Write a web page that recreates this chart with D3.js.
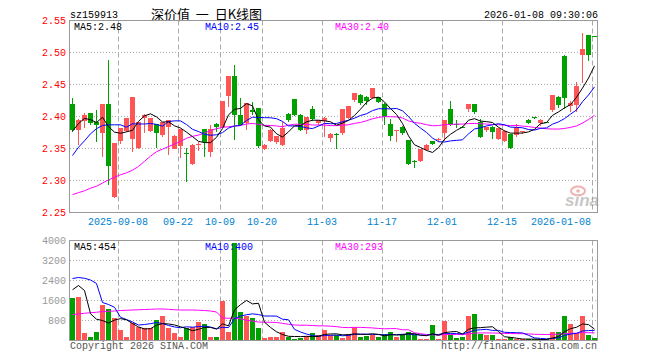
<!DOCTYPE html>
<html>
<head>
<meta charset="utf-8">
<script src="https://cdn.jsdelivr.net/npm/d3@7"></script>
<style>
  body { margin: 0; background: #fff; }
  text { font-family: "Liberation Mono", "DejaVu Sans Mono", monospace; font-size: 10px; }
</style>
</head>
<body>
<svg id="chart" width="660" height="360"></svg>
<script>
// daily candles, oldest first
const opens = [2.419,2.380,2.392,2.406,2.392,2.374,2.419,2.275,2.361,2.377,2.365,2.351,2.397,2.377,2.388,2.370,2.383,2.350,2.355,2.343,
  2.327,2.356,2.381,2.345,2.388,2.385,2.432,2.464,2.403,2.390,2.410,2.414,2.350,2.362,2.359,2.356,2.404,2.428,2.403,2.379,
  2.411,2.389,2.393,2.367,2.373,2.373,2.398,2.425,2.434,2.431,2.429,2.431,2.420,2.388,2.378,2.384,2.364,2.330,2.331,2.348,
  2.362,2.363,2.374,2.411,2.389,2.384,2.411,2.419,2.392,2.378,2.384,2.365,2.363,2.373,2.370,2.375,2.395,2.399,2.390,2.392,
  2.410,2.431,2.494,2.417,2.419,2.496,2.527,2.525];
const highs = [2.429,2.396,2.405,2.406,2.410,2.419,2.489,2.359,2.382,2.398,2.431,2.392,2.404,2.398,2.389,2.392,2.395,2.371,2.381,2.351,
  2.357,2.360,2.381,2.386,2.390,2.425,2.464,2.481,2.429,2.421,2.423,2.414,2.357,2.380,2.370,2.391,2.405,2.428,2.404,2.400,
  2.417,2.395,2.399,2.374,2.374,2.411,2.417,2.436,2.435,2.432,2.445,2.431,2.421,2.396,2.379,2.385,2.364,2.332,2.349,2.357,
  2.362,2.366,2.394,2.425,2.394,2.385,2.419,2.419,2.396,2.384,2.385,2.382,2.379,2.373,2.388,2.377,2.396,2.399,2.396,2.392,
  2.434,2.432,2.496,2.425,2.454,2.531,2.527,2.525];
const lows = [2.377,2.357,2.384,2.389,2.361,2.338,2.295,2.274,2.358,2.377,2.346,2.350,2.376,2.377,2.352,2.370,2.341,2.350,2.336,2.299,
  2.325,2.347,2.339,2.339,2.378,2.385,2.416,2.365,2.387,2.381,2.404,2.353,2.349,2.361,2.359,2.356,2.393,2.403,2.379,2.374,
  2.394,2.388,2.370,2.362,2.350,2.372,2.397,2.424,2.420,2.420,2.429,2.422,2.389,2.364,2.362,2.373,2.325,2.321,2.331,2.348,
  2.357,2.362,2.363,2.387,2.383,2.383,2.409,2.405,2.368,2.377,2.367,2.365,2.362,2.350,2.370,2.374,2.390,2.398,2.386,2.391,
  2.409,2.415,2.414,2.409,2.409,2.454,2.488,2.525];
const closes = [2.378,2.395,2.402,2.391,2.387,2.419,2.322,2.359,2.382,2.398,2.431,2.392,2.402,2.398,2.374,2.391,2.394,2.370,2.381,2.342,
  2.356,2.357,2.360,2.381,2.383,2.425,2.464,2.403,2.388,2.421,2.407,2.354,2.356,2.379,2.369,2.382,2.394,2.403,2.380,2.399,
  2.395,2.394,2.398,2.373,2.372,2.411,2.416,2.436,2.422,2.425,2.445,2.423,2.399,2.370,2.379,2.374,2.327,2.329,2.349,2.356,
  2.358,2.365,2.394,2.388,2.387,2.383,2.419,2.406,2.369,2.383,2.376,2.382,2.378,2.351,2.383,2.377,2.391,2.398,2.395,2.391,
  2.434,2.418,2.429,2.421,2.448,2.506,2.496,2.525];
const volumes = [1690,1760,290,160,360,1430,1250,890,440,130,690,560,490,490,840,1000,490,290,130,490,
  560,760,680,130,160,1600,360,3890,1160,1000,910,490,90,130,130,360,130,50,110,190,
  290,210,410,210,210,90,250,560,130,190,210,130,270,360,130,250,360,270,40,40,
  640,40,800,210,110,130,1000,1080,250,210,210,40,40,130,40,40,40,40,40,40,
  340,330,1000,660,320,1000,200,110];

// moving-average values before the window has enough days
const priceMa5Head = [2.377,2.389,2.397,2.395];
const priceMa10Head = [2.339,2.352,2.362,2.373,2.381,2.386,2.387,2.387,2.387];
const priceMa30Head = [2.278,2.281,2.284,2.288,2.291,2.296,2.301,2.305,2.309,2.312,2.316,2.322,2.330,2.338,2.345,
  2.349,2.353,2.357,2.361,2.366,2.369,2.371,2.374,2.378,2.381,2.383,2.384,2.385,2.386];
const volMa5Head = [2030,2200,2000,1070];
const volMa10Head = [2480,2520,2490,2420,2280,1520,1440,1330,930];
const volMa30Head = [1040,1060,1090,1110,1130,1160,1170,1180,1200,1210,1220,1230,1240,1250,1260,
  1260,1250,1230,1220,1220,1220,1210,1200,1180,1140,900,890,900,870];

const tickIdx = [8,18,25,32,42,52,62,72,87];
const tickLabels = ['2025-09-08','09-22','10-09','10-20','11-03','11-17','12-01','12-15','2026-01-08'];
const priceTicks = [2.25,2.30,2.35,2.40,2.45,2.50,2.55];
const volTicks = [800,1600,2400,3200,4000];

const RED = '#ff5555', GREEN = '#00a000', GRIDC = '#aaaaaa', FRAME = '#999999';
const LEFT = 70, RIGHT = 598;

function movingAvg(arr, n, head) {
    return arr.map((v, i) => {
        if (i < n - 1) return head[i];
        return d3.mean(arr.slice(i - n + 1, i + 1));
    });
}

let svg = d3.select('#chart');
let x = d3.scaleBand().domain(d3.range(closes.length)).range([LEFT, RIGHT]);
let yP = d3.scaleLinear().domain([2.25, 2.55]).range([212.5, 20.5]);
let yV = d3.scaleLinear().domain([0, 4000]).range([340.5, 240.5]);

// header
svg.append('text').text('sz159913').attr('x', 70).attr('y', 18);
svg.append('text').text('深价值\u00a0\u00a0一\u00a0\u00a0日K线图')
    .attr('x', 151).attr('y', 19)
    .style('font-family', '"Noto Sans CJK SC", sans-serif')
    .style('font-size', '13px');
svg.append('text').text('2026-01-08 09:30:06')
    .attr('x', 598).attr('y', 18).attr('text-anchor', 'end');

function drawPanel(y, top, bottom, gridVals) {
    let g = svg.append('g');
    g.selectAll('.hgrid').data(gridVals).enter().append('line')
        .attr('x1', LEFT).attr('x2', RIGHT)
        .attr('y1', d => y(d)).attr('y2', d => y(d))
        .attr('stroke', GRIDC).attr('stroke-dasharray', '1,2');
    g.selectAll('.vgrid').data(tickIdx).enter().append('line')
        .attr('x1', d => x(d) + 0.5).attr('x2', d => x(d) + 0.5)
        .attr('y1', top).attr('y2', bottom)
        .attr('stroke', GRIDC).attr('stroke-dasharray', '5,3');
    return g;
}

function drawFrame(top, bottom) {
    svg.append('rect')
        .attr('x', LEFT - 0.5).attr('y', top)
        .attr('width', RIGHT - LEFT).attr('height', bottom - top)
        .attr('fill', 'none').attr('stroke', FRAME);
}

function drawLine(vals, y, color) {
    svg.append('path')
        .datum(vals)
        .attr('fill', 'none')
        .attr('stroke', color)
        .attr('stroke-width', 1)
        .attr('d', d3.line().x((d, i) => x(i) + 2.5).y(d => y(d)));
}

// price panel
drawPanel(yP, 20.5, 212.5, [2.30, 2.35, 2.40, 2.45, 2.50]);

svg.selectAll('.plab').data(priceTicks).enter().append('text')
    .text(d => d.toFixed(2))
    .attr('x', 66).attr('y', d => yP(d) + 3.5)
    .attr('text-anchor', 'end')
    .attr('fill', '#ff0000');

// watermark
let logo = svg.append('g').attr('opacity', 0.55);
logo.append('ellipse').attr('cx', 578).attr('cy', 191).attr('rx', 7).attr('ry', 4.5)
    .attr('fill', 'none').attr('stroke', '#e87070').attr('stroke-width', 2);
logo.append('circle').attr('cx', 578).attr('cy', 191).attr('r', 1.8).attr('fill', '#e87070');
logo.append('text').text('sina')
    .attr('x', 565).attr('y', 206)
    .style('font-family', '"Liberation Sans", sans-serif')
    .style('font-size', '17px').style('font-style', 'italic').style('font-weight', 'bold')
    .attr('fill', '#9a9a9a');

let candles = svg.append('g').attr('shape-rendering', 'crispEdges');
let idx = d3.range(closes.length);
const colorOf = i => closes[i] > opens[i] ? RED : GREEN;

candles.selectAll('.wick').data(idx).enter().append('line')
    .attr('x1', i => x(i) + 2.5).attr('x2', i => x(i) + 2.5)
    .attr('y1', i => Math.round(yP(highs[i])))
    .attr('y2', i => Math.round(yP(lows[i])) + 1)
    .attr('stroke', colorOf);

candles.selectAll('.body').data(idx).enter().append('rect')
    .attr('x', i => x(i))
    .attr('width', 5)
    .attr('y', i => Math.round(yP(Math.max(opens[i], closes[i]))))
    .attr('height', i => Math.max(1, Math.round(Math.abs(yP(opens[i]) - yP(closes[i])))))
    .attr('fill', colorOf);

drawLine(movingAvg(closes, 30, priceMa30Head), yP, '#ff00ff');
drawLine(movingAvg(closes, 10, priceMa10Head), yP, '#0000ff');
drawLine(movingAvg(closes, 5, priceMa5Head), yP, '#000000');

drawFrame(20.5, 212.5);

svg.append('text').text('MA5:2.48').attr('x', 74).attr('y', 30);
svg.append('text').text('MA10:2.45').attr('x', 205).attr('y', 30).attr('fill', '#0000ff');
svg.append('text').text('MA30:2.40').attr('x', 335).attr('y', 30).attr('fill', '#ff00ff');

// date axis
svg.selectAll('.xlab').data(tickIdx).enter().append('text')
    .text((d, i) => tickLabels[i])
    .attr('x', (d, i) => i === tickIdx.length - 1 ? 591 : x(d))
    .attr('y', 225)
    .attr('text-anchor', (d, i) => i === tickIdx.length - 1 ? 'end' : 'middle')
    .attr('fill', '#0082d2');

// volume panel
drawPanel(yV, 240.5, 340.5, [800, 1600, 2400, 3200]);

svg.selectAll('.vlab').data(volTicks).enter().append('text')
    .text(d => d)
    .attr('x', 66).attr('y', d => yV(d) + 3.5)
    .attr('text-anchor', 'end')
    .attr('fill', '#999999');

svg.append('g').attr('shape-rendering', 'crispEdges')
    .selectAll('rect').data(idx).enter().append('rect')
    .attr('x', i => x(i))
    .attr('width', 5)
    .attr('y', i => Math.round(yV(volumes[i])))
    .attr('height', i => Math.max(1, 341 - Math.round(yV(volumes[i]))))
    .attr('fill', colorOf);

drawLine(movingAvg(volumes, 30, volMa30Head), yV, '#ff00ff');
drawLine(movingAvg(volumes, 10, volMa10Head), yV, '#0000ff');
drawLine(movingAvg(volumes, 5, volMa5Head), yV, '#000000');

drawFrame(240.5, 340.5);

svg.append('text').text('MA5:454').attr('x', 74).attr('y', 250);
svg.append('text').text('MA10:400').attr('x', 205).attr('y', 250).attr('fill', '#0000ff');
svg.append('text').text('MA30:293').attr('x', 335).attr('y', 250).attr('fill', '#ff00ff');

// footer
svg.append('text').text('Copyright 2026 SINA.COM')
    .attr('x', 70).attr('y', 349).attr('fill', '#555555');
svg.append('text').text('http://finance.sina.com.cn')
    .attr('x', 597).attr('y', 349).attr('text-anchor', 'end').attr('fill', '#555555');
</script>
</body>
</html>
